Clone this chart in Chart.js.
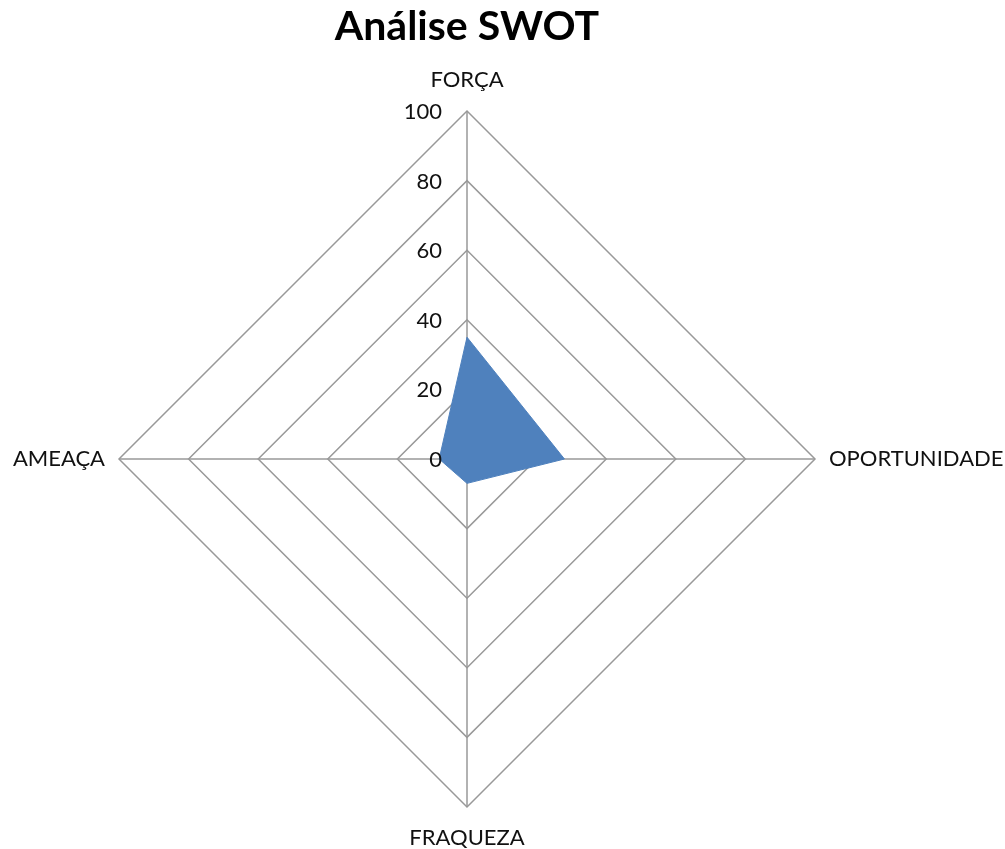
<!DOCTYPE html>
<html>
<head>
<meta charset="utf-8">
<script src="https://cdn.jsdelivr.net/npm/chart.js@4"></script>
<style>
    html, body { margin: 0; padding: 0; background: #fff; }
    #wrap { width: 1005px; height: 849px; }
</style>
</head>
<body>
<div id="wrap"><canvas id="swotChart" width="1005" height="849"></canvas></div>
<script>
'use strict';

const categories = ['FORÇA', 'OPORTUNIDADE', 'FRAQUEZA', 'AMEAÇA'];
const swotValues = [35, 28, 7, 8];
const tickValues = [0, 20, 40, 60, 80, 100];

// tick labels to the left of the vertical axis, category names outside the corners
const radarText = {
    id: 'radarText',
    afterDatasetsDraw(chart) {
        const scale = chart.scales.r;
        const ctx = chart.ctx;
        ctx.save();
        ctx.fillStyle = '#111';
        ctx.font = '22px Lato';
        ctx.textAlign = 'right';
        ctx.textBaseline = 'middle';
        tickValues.forEach(function (v) {
            const p = scale.getPointPositionForValue(0, v);
            ctx.fillText(String(v), p.x - 25, p.y + 1);
        });

        categories.forEach(function (name, i) {
            const probe = scale.getPointPosition(i, scale.drawingArea);
            const vertical = Math.abs(probe.x - scale.xCenter) < 1;
            const p = scale.getPointPosition(i, scale.drawingArea + (vertical ? 31 : 14));
            if (vertical) {
                ctx.textAlign = 'center';
            } else {
                ctx.textAlign = p.x > scale.xCenter ? 'left' : 'right';
            }
            ctx.fillText(name, p.x, p.y);
        });
        ctx.restore();
    }
};

const swotCtx = document.getElementById('swotChart').getContext('2d');
const swotChart = new Chart(swotCtx, {
    type: 'radar',
    data: {
        labels: categories,
        datasets: [{
            label: 'SWOT',
            data: swotValues,
            borderColor: '#4f81bd',
            backgroundColor: '#4f81bd',
            borderWidth: 1,
            fill: true,
            pointRadius: 0
        }]
    },
    options: {
        responsive: false,
        animation: false,
        // square plot area, shifted left because of the long right label
        layout: {
            padding: { left: 0, right: 71, top: 0, bottom: 41 }
        },
        plugins: {
            legend: { display: false },
            tooltip: { enabled: false },
            title: {
                display: true,
                text: 'Análise SWOT',
                color: '#000',
                font: { family: 'Lato', size: 41, weight: 'bold' },
                padding: { top: 2, bottom: 60 }
            }
        },
        scales: {
            r: {
                min: 0,
                max: 100,
                beginAtZero: true,
                ticks: {
                    stepSize: 20,
                    display: false
                },
                grid: {
                    color: '#999',
                    lineWidth: 1.5
                },
                angleLines: {
                    color: '#999',
                    lineWidth: 1.5
                },
                pointLabels: {
                    display: false
                }
            }
        }
    },
    plugins: [radarText]
});
</script>
</body>
</html>
